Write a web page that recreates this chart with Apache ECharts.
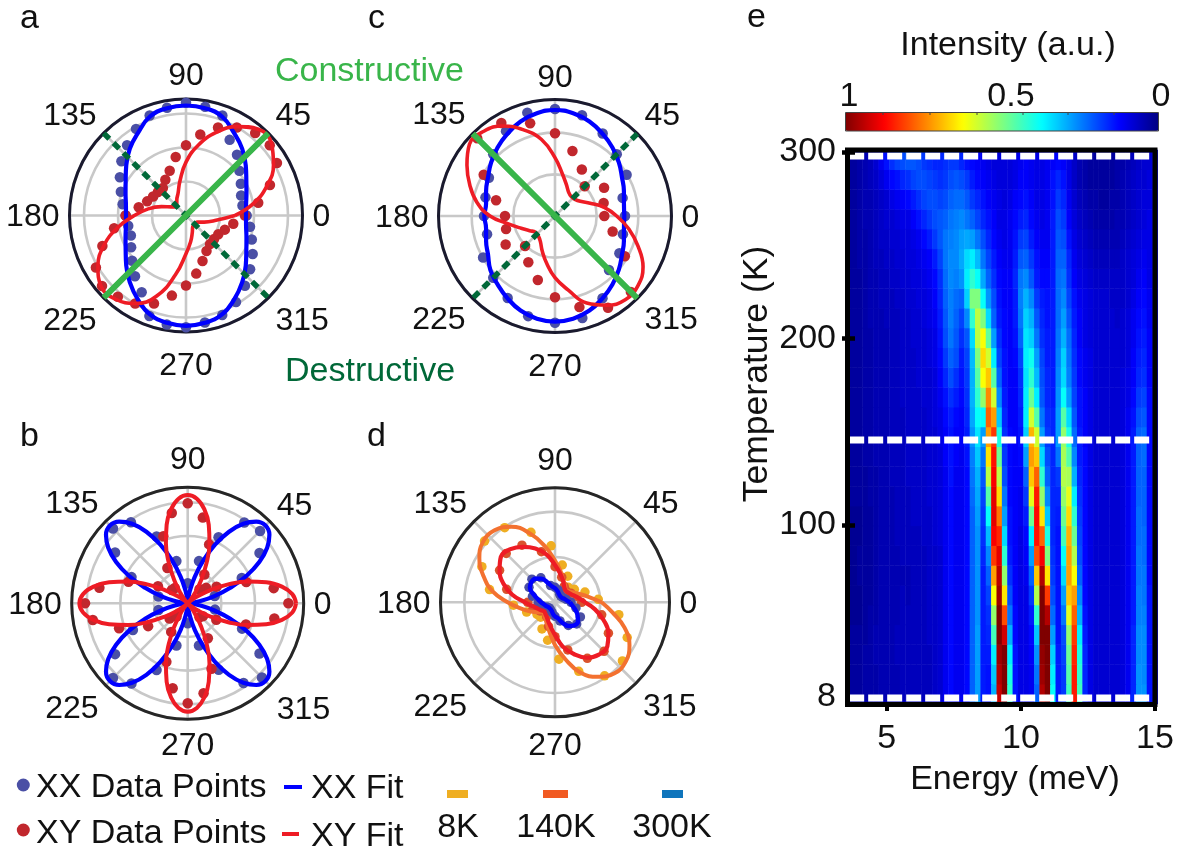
<!DOCTYPE html>
<html><head><meta charset="utf-8">
<style>html,body{margin:0;padding:0;background:#fff}#c{width:1178px;height:854px}</style>
<script src="https://cdn.jsdelivr.net/npm/echarts@6/dist/echarts.min.js"></script>
</head><body><div id="c"></div>
<script>
// ---------- angle grids ----------
const ang10=[0,10,20,30,40,50,60,70,80,90,100,110,120,130,140,150,160,170,180,190,200,210,220,230,240,250,260,270,280,290,300,310,320,330,340,350];
const ang15=[0,15,30,45,60,75,90,105,120,135,150,165,180,195,210,225,240,255,270,285,300,315,330,345];
const ang5=[0,5,10,15,20,25,30,35,40,45,50,55,60,65,70,75,80,85,90,95,100,105,110,115,120,125,130,135,140,145,150,155,160,165,170,175,180,185,190,195,200,205,210,215,220,225,230,235,240,245,250,255,260,265,270,275,280,285,290,295,300,305,310,315,320,325,330,335,340,345,350,355];
const angD=[4,19,34,49,64,79,94,109,124,139,154,169,184,199,214,226,244,259,274,289,304,319,334,349];
const polarLabels=[0,45,90,135,180,225,270,315];

// ---------- panel a ----------
const aXXFit=[180,183,193,209,234,262,287,316,327,330,327,316,287,262,234,209,193,183,180,183,193,209,234,262,290,316,327,331,327,316,290,262,234,209,193,183];
const aXYFit=[147,205,258,303,335,338,308,265,215,160,105,70,55,43,40,52,78,115,155,208,262,305,332,328,305,257,180,115,80,55,40,36,36,40,58,88];
const aXXDots=[182,172,176,190,209,238,262,319,331,338,328,319,300,275,253,229,208,193,181,176,176,190,211,238,266,321,332,335,326,318,300,275,251,231,210,195];
const aXYDots=[177,220,268,315,328,323,305,281,247,211,178,143,124,108,110,114,124,144,181,219,267,312,329,318,305,281,244,210,177,145,123,112,110,112,124,144];

// ---------- panel b ----------
const bXXFit=[0,10,39,83,136,194,248,291,320,330,320,291,248,194,136,83,39,10,0,10,39,83,136,194,248,291,320,330,320,291,248,194,136,83,39,10,0,10,39,83,136,194,248,291,320,330,320,291,248,194,136,83,39,10,0,10,39,83,136,194,248,291,320,330,320,291,248,194,136,83,39,10];
const bXYFit=[325,315,287,244,191,134,81,38,10,0,10,38,81,134,191,244,287,315,325,315,287,244,191,134,81,38,10,0,10,38,81,134,191,244,287,315,325,315,287,244,191,134,81,38,10,0,10,38,81,134,191,244,287,315,325,315,287,244,191,134,81,38,10,0,10,38,81,134,191,244,287,315];
const bXXDotAngles=[15,25,35,45,55,65,75,90,105,115,125,135,145,155,167,193,206,215,225,235,245,255,270,285,295,305,315,325,335,347];
const bXXDots=[84,179,263,307,296,219,131,60,131,221,297,317,266,186,90,90,183,266,317,294,221,131,60,131,220,292,315,263,180,84];
const bXYDots=[302,262,187,100,72,55,100,188,261,300,275,214,122,60,62,103,189,269,308,289,219,137,71,52,99,187,259,300,274,209,121,55,60,99,186,264];

// ---------- panel c ----------
const cXXFit=[208,210,220,232,250,268,285,302,313,318,313,302,285,268,250,232,220,210,212,210,220,232,253,268,285,302,313,317,313,302,285,268,250,232,220,210];
const cXYFit=[185,150,112,88,78,76,82,100,128,175,233,275,312,332,335,305,272,238,195,140,108,88,76,78,88,112,144,185,225,278,309,328,325,305,265,225];
const cXXDots=[210,210,248,262,286,313,321,321,294,262,229,216,213,211,249,262,284,311,320,317,285,229,223,211];
const cXYDots=[148,151,170,126,161,202,248,288,322,330,247,183,150,152,171,127,160,199,244,283,318,322,242,179];

// ---------- panel d ----------
const d8KFit=[140,100,75,60,52,50,60,72,95,125,170,220,262,282,282,262,228,190,142,105,80,60,46,50,58,70,92,128,172,225,258,278,277,258,222,175];
const d140KFit=[90,72,60,52,48,48,55,70,88,112,145,172,192,208,212,192,165,130,90,68,55,48,42,45,50,60,75,98,135,165,192,205,205,185,155,122];
const d300KFit=[45,35,30,25,24,24,26,30,36,42,48,62,82,92,93,87,68,52,42,34,30,26,24,24,25,28,35,42,48,65,82,90,90,78,65,52];
const d8KDots=[130,95,70,60,87,114,170,222,270,280,244,200,125,90,65,62,89,116,171,219,266,268,241,195];
const d140KDots=[80,68,55,48,55,78,107,157,198,207,192,150,82,68,52,42,50,75,103,148,194,208,185,145];
const d300KDots=[48,35,28,25,28,38,45,52,85,98,90,70,50,40,28,24,26,32,42,58,80,92,88,65];

// ---------- panel e: intensity (percent) per temperature row, columns = energies ----------
const energies=[3.6,3.8,4.0,4.2,4.4,4.6,4.8,5.0,5.2,5.4,5.6,5.8,6.0,6.2,6.4,6.6,6.8,7.0,7.2,7.4,7.6,7.8,8.0,8.2,8.4,8.6,8.8,9.0,9.2,9.4,9.6,9.8,10.0,10.2,10.4,10.6,10.8,11.0,11.2,11.4,11.6,11.8,12.0,12.2,12.4,12.6,12.8,13.0,13.2,13.4,13.6,13.8,14.0,14.2,14.4,14.6,14.8,15.0];
const temps=[9,20,30,41,52,62,73,84,94,105,115,126,137,147,158,168,179,190,200,211,221,232,243,253,264,275,285,296];
const r009=[3,3,3,4,4,4,5,5,5,5,6,6,6,6,6,6,7,8,11,13,11,11,13,22,28,15,14,30,93,100,42,14,10,10,11,22,95,100,38,15,18,44,85,44,16,10,8,8,8,8,8,9,11,16,27,27,14,10];
const r020=[3,3,3,4,4,4,5,5,5,5,6,6,6,6,6,6,7,8,11,13,11,11,13,22,28,15,14,32,95,100,40,14,10,10,11,24,97,100,36,15,18,46,85,42,16,10,8,8,8,8,8,9,11,16,27,26,14,10];
const r030=[3,3,3,4,4,5,5,5,5,6,6,6,6,6,6,6,7,8,11,13,11,11,13,22,28,15,15,36,97,100,36,14,10,10,12,27,98,100,33,15,19,48,84,40,16,10,8,8,8,8,8,9,11,16,26,26,14,10];
const r041=[3,3,3,3,4,5,5,5,5,6,6,6,6,6,6,7,7,8,11,13,11,11,13,22,28,15,16,44,100,92,30,13,10,10,13,32,100,100,28,14,20,52,82,36,15,10,8,8,8,8,8,9,11,16,26,26,14,10];
const r052=[2,2,2,3,4,4,5,5,5,5,6,6,6,6,6,7,7,8,11,13,11,11,13,22,27,15,17,52,100,80,24,13,10,10,15,42,100,95,23,14,24,60,78,30,14,10,8,8,8,8,8,9,11,15,25,25,14,10];
const r062=[2,2,2,3,3,4,5,5,5,5,6,5,6,6,6,7,7,8,11,13,11,11,13,22,27,15,19,62,97,65,20,12,10,10,18,55,100,82,20,14,28,68,72,26,13,10,8,8,8,8,8,9,11,15,25,24,14,10];
const r073=[2,2,3,3,3,4,5,5,5,5,5,5,6,6,6,7,7,8,11,13,11,11,13,22,27,15,22,72,94,52,17,12,10,11,22,68,95,65,18,14,34,72,62,22,13,10,8,8,8,8,8,9,11,15,24,24,13,10];
const r084=[2,2,3,3,3,4,5,5,5,5,6,6,6,6,6,7,7,8,11,13,11,11,13,22,27,16,26,82,90,42,15,12,10,12,28,80,88,50,17,14,38,72,55,20,13,10,8,8,8,8,8,9,11,15,24,23,13,10];
const r094=[2,2,2,3,3,4,5,5,5,6,6,6,6,6,7,7,8,9,11,13,11,11,13,22,27,17,31,88,84,34,14,12,10,13,36,86,78,40,16,14,44,70,48,19,13,10,8,8,8,8,8,9,11,15,23,23,13,10];
const r105=[2,2,2,3,3,4,5,5,5,6,6,6,7,7,7,7,8,9,11,13,11,11,13,22,28,18,38,90,76,28,14,12,11,15,48,87,65,32,16,15,48,66,42,18,13,10,8,8,8,8,8,9,11,15,23,22,13,10];
const r115=[3,3,3,3,4,4,5,5,5,6,6,6,7,7,7,8,8,9,11,13,11,11,13,23,29,19,46,90,66,24,13,12,11,18,60,85,52,26,16,16,52,60,36,17,13,10,8,8,8,8,8,9,11,15,22,22,13,10];
const r126=[3,3,3,3,4,4,5,5,6,6,6,7,7,7,7,8,8,9,11,14,11,11,13,24,30,21,56,88,56,20,13,12,12,22,68,78,42,22,16,18,55,54,30,16,13,10,8,8,8,8,8,9,11,15,22,22,13,10];
const r137=[3,3,3,4,4,5,5,5,6,6,6,7,7,7,7,8,8,9,12,14,12,11,14,25,32,24,65,86,48,18,13,12,13,28,72,68,34,20,16,24,54,46,26,15,13,10,8,8,8,8,8,9,11,15,22,23,13,10];
const r147=[3,3,3,4,4,5,5,5,6,6,6,7,7,7,7,8,8,10,12,14,12,12,15,27,35,28,72,82,40,17,13,12,14,33,70,58,28,18,16,28,52,40,23,15,12,10,8,8,8,8,8,9,11,15,22,23,13,10];
const r158=[3,3,3,4,4,5,5,5,6,6,6,7,7,7,7,8,9,10,13,15,13,12,16,29,38,38,78,72,32,16,12,12,15,36,58,46,24,17,16,28,46,34,21,14,12,10,8,8,8,8,8,9,11,14,20,21,13,10];
const r168=[3,3,3,4,4,5,5,5,6,6,7,7,7,7,8,8,9,11,14,17,15,13,17,30,42,52,74,58,26,15,12,12,16,36,48,36,21,16,15,27,38,28,19,14,12,10,8,8,8,8,8,9,10,13,18,19,13,10];
const r179=[3,3,3,4,4,5,5,5,6,6,7,7,7,8,8,8,9,12,16,20,17,14,18,30,46,62,68,46,22,14,12,12,17,35,42,31,20,16,15,26,34,25,18,13,11,10,8,8,8,8,8,9,10,12,16,17,12,10];
const r190=[3,3,3,4,4,5,5,5,6,6,7,7,7,8,8,9,10,13,18,22,20,15,19,31,50,66,58,36,19,14,12,13,19,36,39,28,19,15,15,25,33,24,17,13,11,10,8,8,8,8,8,8,9,12,15,16,12,10];
const r200=[3,3,3,4,4,5,5,5,6,6,7,7,8,8,8,9,10,14,20,24,21,17,21,34,56,62,47,28,17,13,12,14,22,35,33,24,17,15,15,24,30,23,16,12,10,9,8,8,8,8,8,8,9,11,14,15,12,9];
const r211=[3,3,3,4,5,5,5,6,6,6,7,7,8,8,9,10,11,15,21,25,22,19,26,42,56,50,34,22,15,13,12,15,24,33,30,21,16,14,15,23,28,21,15,12,10,9,8,8,8,8,7,8,9,11,13,14,11,9];
const r221=[3,3,3,4,5,5,6,6,6,7,7,8,8,9,9,10,12,16,22,25,23,22,33,50,50,38,27,20,14,12,12,15,25,30,26,18,15,14,15,23,26,19,14,11,10,9,8,8,8,7,7,7,8,10,12,13,11,9];
const r232=[3,3,3,4,5,5,6,6,7,7,8,8,9,9,10,11,13,17,23,26,25,27,36,42,38,29,22,17,13,12,12,16,24,26,21,15,13,13,15,23,24,17,12,10,9,8,7,7,7,7,7,7,8,9,11,12,10,9];
const r243=[3,3,4,4,5,6,6,7,7,8,8,9,9,10,11,12,15,19,24,26,26,29,34,36,31,24,19,15,12,11,11,15,21,22,18,14,12,12,15,22,22,16,11,9,8,7,6,6,6,6,6,7,8,9,10,11,10,9];
const r253=[3,3,4,4,5,6,7,7,8,8,9,9,10,11,13,15,18,21,24,25,26,28,29,28,24,20,16,13,11,10,11,14,18,19,15,12,11,11,15,21,20,14,10,8,7,6,5,5,5,5,5,6,7,8,9,10,10,9];
const r264=[3,3,4,5,5,6,7,8,8,9,10,10,12,14,16,18,20,21,22,24,25,26,24,22,19,16,14,12,10,10,11,13,15,16,13,11,10,11,15,20,18,12,9,7,6,5,4,4,4,4,5,5,6,7,8,9,10,9];
const r275=[3,3,4,5,5,6,7,8,10,11,12,13,15,17,19,20,20,19,20,22,23,23,21,18,16,14,12,11,10,9,10,12,13,14,12,10,10,11,14,18,16,11,8,6,5,4,4,3,3,4,4,5,6,7,8,9,9,9];
const r285=[3,3,4,5,6,7,9,11,13,14,16,17,19,20,20,19,18,17,18,20,21,20,18,15,13,12,11,10,9,9,9,10,12,12,11,10,10,11,14,16,14,10,7,5,4,3,3,3,3,3,4,5,6,7,8,8,9,9];
const r296=[3,3,4,5,6,8,11,14,17,19,20,21,21,20,18,17,16,16,17,18,18,16,14,13,12,11,10,9,9,9,9,10,11,12,11,10,10,11,12,13,12,10,7,5,4,3,3,3,3,3,4,4,5,6,7,8,8,8];
const heatRows=[r009,r020,r030,r041,r052,r062,r073,r084,r094,r105,r115,r126,r137,r147,r158,r168,r179,r190,r200,r211,r221,r232,r243,r253,r264,r275,r285,r296];
const dashedTemps=[7.2,145.5,297.8];
const energyTicks=[5,10,15];
const tempLabels=[8,100,200,300];
const tempTicks=[100,200,300];
const colorbarTickX=[883,930,977,1023,1068,1114];

// ---------- styling ----------
const FONT='Liberation Sans';
const BLUE='#0000FF',RED='#EE1C25',BDOT='#4A4FA5',RDOT='#C1272D';
const GREEN='#39B54A',DGREEN='#006838';
const jet=['#00007f','#0000ff','#007fff','#00ffff','#7fff7f','#ffff00','#ff7f00','#ff0000','#7f0000'];
const panels=[
 {center:[186,215.5],radius:116.5,max:349.5,ring:102,axis:'#1a1a2e',dy:{0:2,45:6,90:3,135:6,180:2,225:0,270:8,315:0}},
 {center:[187.7,603.3],radius:116,max:348,ring:101,axis:'#262626',dy:{0:2,45:8,90:-1,135:6,180:2,225:1,270:1,315:2}},
 {center:[555,216],radius:116.5,max:349.5,ring:125,axis:'#1a1a2e',dy:{0:2,45:6,90:5,135:5,180:2,225:-1,270:9,315:-1}},
 {center:[555,602.3],radius:114.5,max:343.5,ring:136,axis:'#262626',dy:{0:2,45:6,90:-1,135:6,180:2,225:1,270:3,315:1}}
];
const polar=panels.map(p=>({center:p.center,radius:p.radius}));
const labelRich=p=>{const rich={};polarLabels.forEach(v=>{
  const d=p.dy[v],base={fontFamily:FONT,fontSize:32,color:'#111'};
  if(v===0||v===180) rich['r'+v]=Object.assign(base,{lineHeight:32,padding:[2*d,0,0,0]});
  else if(v>180) rich['r'+v]=Object.assign(base,{lineHeight:32+2*d});
  else rich['r'+v]=Object.assign(base,{lineHeight:32-2*d});
 });return rich;};
const angleAxis=panels.map((p,k)=>({polarIndex:k,type:'value',min:0,max:360,interval:45,startAngle:0,clockwise:false,
 axisLine:{show:true,lineStyle:{color:p.axis,width:3}},axisTick:{show:false},
 splitLine:{show:true,lineStyle:{color:'#c8c8c8',width:2.6}},
 axisLabel:{show:true,margin:10,fontFamily:FONT,fontSize:32,color:'#111',rich:labelRich(p),
  formatter:v=>polarLabels.includes(v)?`{r${v}|${v}}`:''}}));
const radiusAxis=panels.map((p,k)=>({polarIndex:k,type:'value',min:0,max:p.max,interval:p.ring,
 axisLine:{show:false},axisTick:{show:false},axisLabel:{show:false},
 splitLine:{show:true,lineStyle:{color:'#c8c8c8',width:2.6}}}));

const zip=(rs,as)=>rs.map((r,i)=>[r,as[i]]);
const fit=(k,as,rs,color,w)=>({type:'line',coordinateSystem:'polar',polarIndex:k,data:zip(rs,as).concat([[rs[0],360]]),
 symbol:'none',smooth:0.45,clip:false,lineStyle:{color,width:w},silent:true});
const dots=(k,as,rs,color,s)=>({type:'scatter',coordinateSystem:'polar',polarIndex:k,data:zip(rs,as),symbol:'circle',symbolSize:s||10.5,itemStyle:{color,opacity:1},silent:true});
const diag=(k,a,color,w,type)=>{const R=panels[k].max;return {type:'line',coordinateSystem:'polar',polarIndex:k,data:[[R,a],[0,a],[R,a+180]],
 symbol:'none',clip:false,lineStyle:{color,width:w,type:type||'solid',cap:'butt'},silent:true};};

const heatData=[];
heatRows.forEach((row,j)=>row.forEach((v,i)=>heatData.push([i,j,v])));

const series=[
 dots(0,ang10,aXXDots,BDOT),dots(0,ang10,aXYDots,RDOT),
 fit(0,ang10,aXXFit,BLUE,4.2),fit(0,ang10,aXYFit,RED,3.6),
 diag(0,135,DGREEN,5.5,[8,6]),diag(0,45,GREEN,6),

 dots(1,bXXDotAngles,bXXDots,BDOT),dots(1,ang10,bXYDots,RDOT),
 fit(1,ang5,bXXFit,BLUE,4.2),fit(1,ang5,bXYFit,RED,4),

 dots(2,ang15,cXXDots,BDOT),dots(2,ang15,cXYDots,RDOT),
 fit(2,ang10,cXXFit,BLUE,4.2),fit(2,ang10,cXYFit,RED,3.6),
 diag(2,45,DGREEN,5.5,[8,6]),diag(2,135,GREEN,6),

 dots(3,angD,d8KDots,'#EFAE22',9.5),dots(3,ang15,d140KDots,'#D9532C',9.5),dots(3,ang15,d300KDots,'#4A4FA5',9.5),
 fit(3,ang10,d8KFit,'#F37130',4),fit(3,ang10,d140KFit,RED,4.2),fit(3,ang10,d300KFit,BLUE,4.4),

 {type:'heatmap',xAxisIndex:0,yAxisIndex:0,data:heatData,silent:true,progressive:0,itemStyle:{borderWidth:0}}
];
dashedTemps.forEach(t=>series.push({type:'line',xAxisIndex:1,yAxisIndex:1,z:6,symbol:'none',silent:true,
 data:[[3.6,t],[15.0,t]],lineStyle:{color:'#fff',width:7,type:[15,4],cap:'butt'}}));

// ---------- text & legend ----------
const txt=(text,x,y,o)=>Object.assign({type:'text',z:60,silent:true,x,y,style:Object.assign({text,fontFamily:FONT,fontSize:34,fill:'#111',textAlign:'left',textVerticalAlign:'middle'},o||{})});
const txtR=(text,x,y,o)=>Object.assign(txt(text,x,y,o),{rotation:Math.PI/2});
const graphic=[
 txt('a',20,19),txt('b',20,437),txt('c',368,19),txt('d',367,437),txt('e',747,18),
 txt('Constructive',275,72,{fill:GREEN}),txt('Destructive',285,372,{fill:DGREEN}),
 {type:'circle',silent:true,z:60,shape:{cx:23.3,cy:785,r:6.5},style:{fill:BDOT}},
 {type:'circle',silent:true,z:60,shape:{cx:23.3,cy:830,r:6.5},style:{fill:RDOT}},
 txt('XX Data Points',36,788),txt('XY Data Points',36,834),
 {type:'rect',silent:true,z:60,shape:{x:284,y:785,width:18,height:4},style:{fill:BLUE}},
 {type:'rect',silent:true,z:60,shape:{x:282,y:832,width:17,height:4},style:{fill:RED}},
 txt('XX Fit',311,789),txt('XY Fit',311,837),
 {type:'rect',silent:true,z:60,shape:{x:447,y:790,width:21,height:8},style:{fill:'#EFAE22'}},
 {type:'rect',silent:true,z:60,shape:{x:543,y:790,width:25,height:8},style:{fill:'#F15A22'}},
 {type:'rect',silent:true,z:60,shape:{x:662,y:790,width:21,height:8},style:{fill:'#0F75BC'}},
 txt('8K',458,828,{textAlign:'center'}),txt('140K',556,828,{textAlign:'center'}),txt('300K',672,828,{textAlign:'center'}),
 txt('Intensity (a.u.)',1008,46,{textAlign:'center'}),
 txt('1',849,97,{textAlign:'center'}),txt('0.5',1011,97,{textAlign:'center'}),txt('0',1161,97,{textAlign:'center'}),
 txt('Energy (meV)',1015,780,{textAlign:'center'}),
 txtR('Temperature (K)',757,374,{textAlign:'center',fontSize:35.5}),
 {type:'rect',silent:true,z:60,shape:{x:845.5,y:112.5,width:313,height:18.5},style:{fill:'none',stroke:'#444',lineWidth:1}},
 {type:'rect',silent:true,z:50,shape:{x:847.5,y:150,width:307.5,height:554.5},style:{fill:'none',stroke:'#000',lineWidth:5}}
].concat(colorbarTickX.map(x=>({type:'line',silent:true,z:60,shape:{x1:x,y1:112,x2:x,y2:115},style:{stroke:'#444',lineWidth:1}})));

const chart=echarts.init(document.getElementById('c'),null,{renderer:'canvas',width:1178,height:854});
chart.setOption({
 animation:false,backgroundColor:'#fff',
 textStyle:{fontFamily:FONT},
 polar,angleAxis,radiusAxis,
 grid:{left:846.5,top:150,width:311.2,height:554,containLabel:false},
 xAxis:[
  {type:'category',gridIndex:0,data:energies,show:false},
  {type:'value',gridIndex:0,min:3.5,max:15.1,position:'bottom',z:10,
   axisLine:{show:false},splitLine:{show:false},
   axisTick:{show:true,length:7,lineStyle:{color:'#000',width:4},customValues:energyTicks},
   axisLabel:{show:true,margin:18,fontFamily:FONT,fontSize:34,color:'#111',customValues:energyTicks}}
 ],
 yAxis:[
  {type:'category',gridIndex:0,data:temps,show:false},
  {type:'value',gridIndex:0,min:4,max:301,position:'left',offset:-8.5,z:10,
   axisLine:{show:false},splitLine:{show:false},
   axisTick:{show:true,length:13,lineStyle:{color:'#000',width:4.5},customValues:tempTicks},
   axisLabel:{show:true,margin:19,fontFamily:FONT,fontSize:34,color:'#111',customValues:tempLabels}}
 ],
 visualMap:{type:'continuous',min:0,max:100,seriesIndex:22,orient:'horizontal',inverse:true,left:845,top:112,
  itemWidth:19,itemHeight:314,calculable:false,realtime:false,text:null,padding:0,showLabel:false,
  inRange:{color:jet},textStyle:{color:'transparent',fontSize:1}},
 series,graphic
});
</script></body></html>
